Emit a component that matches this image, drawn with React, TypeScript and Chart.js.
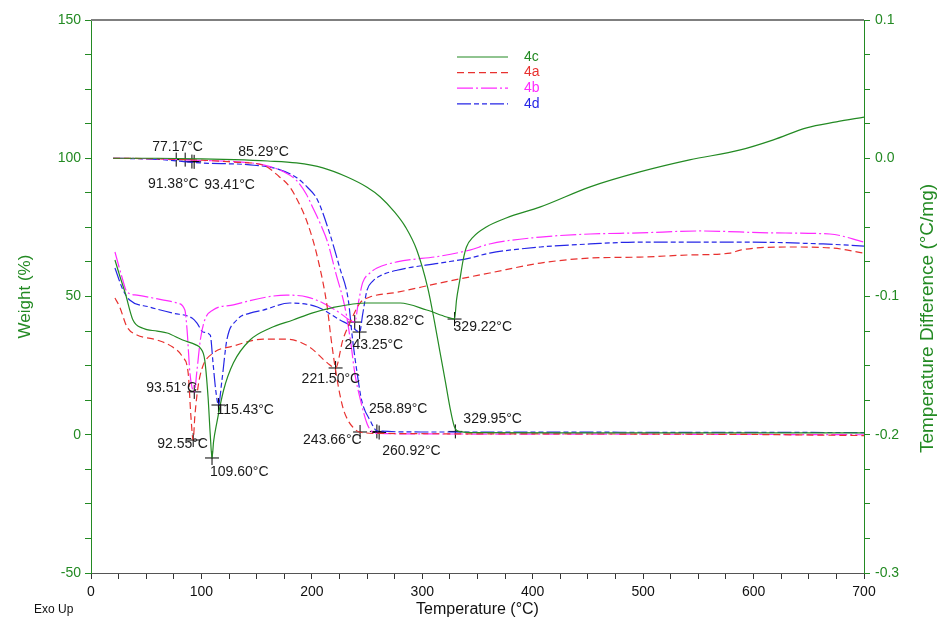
import React, { useEffect, useRef } from 'react';
import { Chart, registerables } from 'chart.js';
Chart.register(...registerables);

// ---- series names / colours ----
const seriesNames = ['4c', '4a', '4b', '4d'];
const GREEN = '#238a23';
const RED = '#e8312f';
const MAGENTA = '#ff2bff';
const BLUE = '#2626e6';

// ---- TGA (Weight %, left axis) ----
const tga4cT = [20, 60, 100, 130, 160, 186, 210, 232, 250, 262, 275, 285, 295, 305, 311, 316, 321, 325, 329, 333, 345, 450, 600, 700];
const tga4cW = [100, 100, 99.8, 99.5, 99, 98.3, 96.5, 93.2, 89.5, 86, 80.5, 75, 66.8, 53, 41, 30, 19, 10, 3, 1.2, 0.8, 0.7, 0.7, 0.7];

const tga4aT = [20, 60, 100, 130, 156, 170, 180, 188, 196, 205, 214, 217, 222, 228, 233, 237, 243, 260, 400, 600, 700];
const tga4aW = [100, 99.8, 99.3, 98.6, 97.5, 93.5, 89.6, 84, 76.6, 64.3, 46, 36, 22, 10, 5, 2.8, 1, 0.5, 0.3, 0.1, -0.3];

const tga4bT = [20, 60, 100, 130, 156, 175, 186, 195, 201, 208, 214, 222, 230, 235, 239, 244, 250, 255, 261, 300, 500, 700];
const tga4bW = [100, 99.8, 99.2, 98.8, 97.6, 95, 92, 87, 82, 76, 70, 58, 46, 34, 22, 12.6, 4, 1, 0.5, 0.3, 0.2, 0];

const tga4dT = [20, 60, 99, 144, 170, 186, 196, 205, 216, 225, 233, 237, 241, 245, 253, 259, 300, 500, 700];
const tga4dW = [100, 99.6, 98.3, 97.6, 96, 93, 89.5, 85, 73, 60.7, 48.7, 34, 22.3, 12.6, 5, 1.4, 1, 0.9, 0.8];

// ---- DTA (Temperature Difference °C/mg, right axis) ----
const dta4cT = [21.7, 26, 31, 38, 47, 60, 69, 83, 95, 99, 103, 106, 108, 109.6, 111, 114, 120, 129, 144, 162, 183, 200, 219, 250, 280, 304, 322, 329.2, 331, 334, 337, 340, 346, 358, 376, 407, 452, 497, 542, 588, 618, 648, 675, 700];
const dta4cD = [-0.0736, -0.085, -0.0975, -0.117, -0.123, -0.125, -0.1264, -0.1315, -0.135, -0.1373, -0.146, -0.1727, -0.2, -0.2168, -0.205, -0.191, -0.168, -0.148, -0.1315, -0.123, -0.117, -0.112, -0.108, -0.1047, -0.1047, -0.1098, -0.1148, -0.1163, -0.1025, -0.088, -0.0736, -0.0642, -0.057, -0.0497, -0.0432, -0.0352, -0.0207, -0.0099, -0.0012, 0.006, 0.0133, 0.022, 0.0263, 0.0298];

const dta4aT = [21.7, 26, 32.6, 41.6, 60, 74, 83, 88, 90.5, 92.55, 94, 97, 101, 110.5, 129, 156, 177, 198, 214, 221.5, 228, 234.5, 243.6, 252.6, 277, 316, 361, 407, 452, 497, 540, 579, 588, 633, 672, 700];
const dta4aD = [-0.1011, -0.1076, -0.122, -0.1278, -0.1315, -0.1366, -0.1438, -0.1554, -0.187, -0.2038, -0.187, -0.165, -0.151, -0.141, -0.1358, -0.1308, -0.1308, -0.1366, -0.148, -0.1517, -0.1315, -0.119, -0.1047, -0.1004, -0.097, -0.0902, -0.083, -0.0758, -0.0722, -0.0715, -0.07, -0.0686, -0.0664, -0.0642, -0.065, -0.0686];

const dta4bT = [21.7, 28, 32.6, 41.6, 56, 78, 85, 87, 89.6, 93.51, 96, 99, 103, 110.5, 129, 159, 177, 196, 210, 225.5, 234, 238.82, 242, 246, 252.6, 259, 277, 316, 343, 361, 407, 452, 497, 551, 618, 669, 700];
const dta4bD = [-0.0678, -0.0859, -0.0967, -0.099, -0.1011, -0.1047, -0.1098, -0.1242, -0.1554, -0.169, -0.1532, -0.1315, -0.117, -0.1098, -0.106, -0.1004, -0.099, -0.1004, -0.1047, -0.112, -0.117, -0.1185, -0.105, -0.09, -0.083, -0.0794, -0.075, -0.0708, -0.0664, -0.062, -0.057, -0.0548, -0.054, -0.0526, -0.054, -0.0548, -0.0606];

const dta4dT = [21.7, 29, 35, 53, 74, 91.5, 96, 101.5, 108, 110.5, 113, 115.43, 118.6, 123, 132, 144, 156, 180, 205, 225.5, 235, 243.25, 246, 250, 255, 262, 277, 316, 343, 361, 407, 452, 497, 588, 663, 700];
const dta4dD = [-0.0794, -0.0953, -0.1025, -0.1076, -0.112, -0.1156, -0.1192, -0.1257, -0.128, -0.148, -0.168, -0.1785, -0.1604, -0.1315, -0.117, -0.112, -0.1098, -0.1047, -0.1076, -0.117, -0.121, -0.1257, -0.113, -0.0953, -0.089, -0.085, -0.081, -0.0758, -0.0722, -0.0686, -0.0642, -0.062, -0.0606, -0.0606, -0.062, -0.0635];

// ---- annotated points ----
const tgaMarkT = [77.17, 85.29, 91.38, 93.41, 258.89, 329.95, 243.66, 260.92];
const tgaMarkW = [99.5, 99.5, 98.8, 98.7, 1.2, 1.2, 1.0, 0.8];
const dtaMarkT = [93.51, 92.55, 109.6, 115.43, 221.5, 238.82, 243.25, 329.22];
const dtaMarkD = [-0.169, -0.2038, -0.2168, -0.1785, -0.1517, -0.1185, -0.1257, -0.1163];

// label offsets (px) relative to the marker, same order as above
const tgaLabelOffsets = [[-24, -12], [53, -7], [-44, 23], [10, 23], [-8, -22], [8, -12], [-57, 8], [3, 19]];
const dtaLabelOffsets = [[-48, -4], [-36, 4], [-2, 14], [-2, 5], [-34, 11], [11, -1], [-15, 13], [-1, 8]];

const pts = (xs: number[], ys: number[]) => xs.map((x, i) => ({ x, y: ys[i] }));

const FONT = 'Liberation Sans, Arial, sans-serif';

const styles = [
  { color: GREEN, dash: [] as number[] },
  { color: RED, dash: [7, 4] },
  { color: MAGENTA, dash: [16, 3, 2, 3] },
  { color: BLUE, dash: [14, 3, 5, 3, 5, 3] },
];

const overlayPlugin = {
  id: 'overlay',
  afterDraw(chart: any) {
    const { ctx, chartArea, scales } = chart;
    const { left, right, top, bottom } = chartArea;
    ctx.save();
    // top frame line
    ctx.strokeStyle = '#7f7f7f';
    ctx.lineWidth = 2;
    ctx.setLineDash([]);
    ctx.beginPath();
    ctx.moveTo(left, top);
    ctx.lineTo(right, top);
    ctx.stroke();

    // marker labels
    ctx.fillStyle = '#1a1a1a';
    ctx.font = `14px ${FONT}`;
    ctx.textAlign = 'left';
    ctx.textBaseline = 'middle';
    tgaMarkT.forEach((t, i) => {
      const px = scales.x.getPixelForValue(t);
      const py = scales.y.getPixelForValue(tgaMarkW[i]);
      const [dx, dy] = tgaLabelOffsets[i];
      ctx.fillText(t.toFixed(2) + '°C', px + dx, py + dy);
    });
    dtaMarkT.forEach((t, i) => {
      const px = scales.x.getPixelForValue(t);
      const py = scales.y1.getPixelForValue(dtaMarkD[i]);
      const [dx, dy] = dtaLabelOffsets[i];
      ctx.fillText(t.toFixed(2) + '°C', px + dx, py + dy);
    });

    // legend
    const lx = left + 366;
    seriesNames.forEach((name, i) => {
      const y = top + 37 + i * 15.6;
      ctx.strokeStyle = styles[i].color;
      ctx.lineWidth = 1.2;
      ctx.setLineDash(styles[i].dash);
      ctx.beginPath();
      ctx.moveTo(lx, y);
      ctx.lineTo(lx + 51, y);
      ctx.stroke();
      ctx.setLineDash([]);
      ctx.fillStyle = styles[i].color;
      ctx.font = `14px ${FONT}`;
      ctx.textAlign = 'left';
      ctx.fillText(name, lx + 67, y);
    });

    // axis titles
    const midY = (top + bottom) / 2;
    ctx.fillStyle = GREEN;
    ctx.font = `17px ${FONT}`;
    ctx.textAlign = 'center';
    ctx.textBaseline = 'middle';
    ctx.save();
    ctx.translate(25, midY);
    ctx.rotate(-Math.PI / 2);
    ctx.fillText('Weight (%)', 0, 0);
    ctx.restore();
    ctx.save();
    ctx.font = `19px ${FONT}`;
    ctx.translate(928, midY + 22);
    ctx.rotate(-Math.PI / 2);
    ctx.fillText('Temperature Difference (°C/mg)', 0, 0);
    ctx.restore();

    ctx.fillStyle = '#111';
    ctx.font = `16px ${FONT}`;
    ctx.fillText('Temperature (°C)', (left + right) / 2, 610);
    ctx.font = `12px ${FONT}`;
    ctx.textAlign = 'left';
    ctx.fillText('Exo Up', 34, 610);
    ctx.restore();
  },
};

export default function App() {
  const ref = useRef<HTMLCanvasElement>(null);
  useEffect(() => {
    if (!ref.current) return;
    const tga = [pts(tga4cT, tga4cW), pts(tga4aT, tga4aW), pts(tga4bT, tga4bW), pts(tga4dT, tga4dW)];
    const dta = [pts(dta4cT, dta4cD), pts(dta4aT, dta4aD), pts(dta4bT, dta4bD), pts(dta4dT, dta4dD)];
    const lineDs = (data: any, i: number, axis: string, label: string) => ({
      label,
      data,
      yAxisID: axis,
      borderColor: styles[i].color,
      borderDash: styles[i].dash,
      borderWidth: 1.2,
      pointRadius: 0,
      fill: false,
      cubicInterpolationMode: 'monotone',
    });
    const datasets: any[] = [];
    seriesNames.forEach((n, i) => {
      datasets.push(lineDs(tga[i], i, 'y', n));
      datasets.push(lineDs(dta[i], i, 'y1', n + ' DTA'));
    });
    datasets.push({
      label: 'tga marks',
      data: pts(tgaMarkT, tgaMarkW),
      yAxisID: 'y',
      showLine: false,
      pointStyle: 'cross',
      pointRadius: 7,
      pointBorderColor: '#000',
      pointBorderWidth: 1,
    });
    datasets.push({
      label: 'dta marks',
      data: pts(dtaMarkT, dtaMarkD),
      yAxisID: 'y1',
      showLine: false,
      pointStyle: 'cross',
      pointRadius: 7,
      pointBorderColor: '#000',
      pointBorderWidth: 1,
    });

    const chart = new Chart(ref.current, {
      type: 'line',
      data: { datasets },
      plugins: [overlayPlugin],
      options: {
        animation: false,
        responsive: false,
        layout: { padding: { top: 20, left: 0, right: 0, bottom: 0 } },
        plugins: { legend: { display: false }, tooltip: { enabled: false } },
        scales: {
          x: {
            type: 'linear',
            position: 'bottom',
            min: 0,
            max: 700,
            afterFit: (s: any) => { s.height = 61; },
            ticks: {
              stepSize: 25,
              autoSkip: false,
              maxRotation: 0,
              padding: 5,
              color: '#111',
              font: { family: FONT, size: 14 },
              callback: (v: any) => (Math.round(v) % 100 === 0 ? String(Math.round(v)) : ''),
            },
            grid: { drawOnChartArea: false, drawTicks: true, tickLength: 6, color: '#333' },
            border: { display: true, color: '#555', width: 1 },
          },
          y: {
            type: 'linear',
            position: 'left',
            min: -50,
            max: 150,
            afterFit: (s: any) => { s.width = 91; },
            ticks: {
              stepSize: 12.5,
              autoSkip: false,
              padding: 4,
              color: GREEN,
              font: { family: FONT, size: 14 },
              callback: (v: any) => (Math.abs(Math.round(v * 2)) % 100 === 0 ? String(v) : ''),
            },
            grid: { drawOnChartArea: false, drawTicks: true, tickLength: 6, color: GREEN },
            border: { display: true, color: GREEN, width: 1 },
          },
          y1: {
            type: 'linear',
            position: 'right',
            min: -0.3,
            max: 0.1,
            afterFit: (s: any) => { s.width = 78; },
            ticks: {
              stepSize: 0.025,
              autoSkip: false,
              padding: 5,
              color: GREEN,
              font: { family: FONT, size: 14 },
              callback: (v: any) => (Math.abs(Math.round(v * 40)) % 4 === 0 ? (Math.round(v * 10) / 10).toFixed(1) : ''),
            },
            grid: { drawOnChartArea: false, drawTicks: true, tickLength: 6, color: GREEN },
            border: { display: true, color: GREEN, width: 1 },
          },
        },
      } as any,
    });
    return () => chart.destroy();
  }, []);
  return (
    <div style={{ position: 'fixed', left: 0, top: 0, width: 942, height: 634, background: '#fff' }}>
      <canvas ref={ref} width={942} height={634} style={{ display: 'block' }} />
    </div>
  );
}
